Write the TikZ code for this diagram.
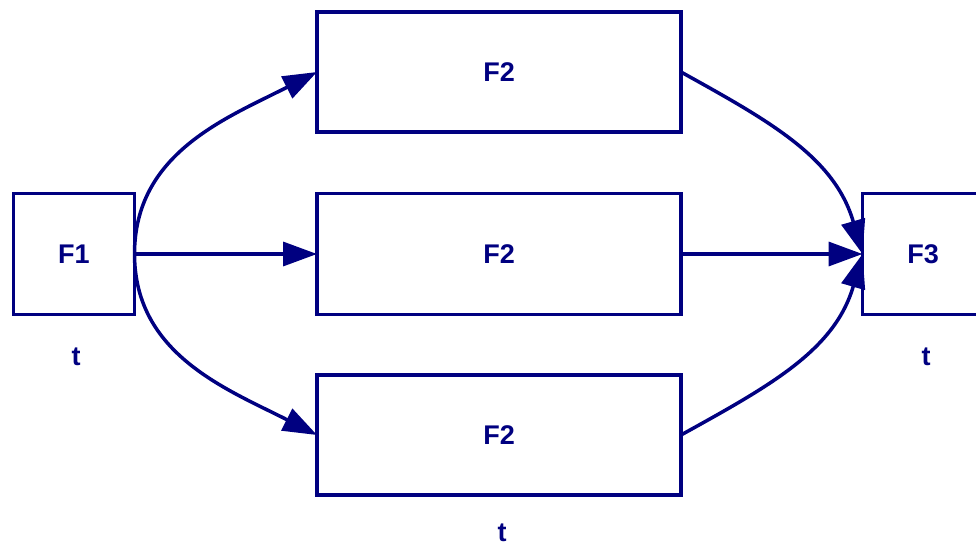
\documentclass[tikz,border=0pt]{standalone}
\usepackage{fontspec}
\setmainfont{Liberation Sans}
\usetikzlibrary{arrows.meta}
\definecolor{navy}{RGB}{0,0,128}
\tikzset{
  blk/.style={draw=navy, line width=3.5pt, inner sep=0pt, outer sep=0pt, anchor=north west,
    font=\fontsize{27}{30}\selectfont\bfseries, text=navy},
  lbl/.style={inner sep=0pt, font=\fontsize{27}{30}\selectfont\bfseries, text=navy},
  flow/.style={draw=navy, line width=3.5pt, -{Triangle[length=34pt,width=24pt]}}
}
\begin{document}
\begin{tikzpicture}[x=1pt,y=-1pt]
  \useasboundingbox (0,0) rectangle (976,549);
  % source and sink blocks
  \node[blk, minimum width=121pt, minimum height=121pt] (f1) at (13.5,193.5) {F1};
  \node[blk, minimum width=121pt, minimum height=121pt] (f3) at (862.5,193.5) {F3};
  % three parallel blocks
  \node[blk, minimum width=364pt, minimum height=120pt] (a) at (317,12) {F2};
  \node[blk, minimum width=364pt, minimum height=121pt] (b) at (317,193.5) {F2};
  \node[blk, minimum width=364pt, minimum height=120pt] (c) at (317,375) {F2};
  % labels
  \node[lbl] (t1) at (76,357) {t};
  \node[lbl] (t3) at (926,357) {t};
  \node[lbl] (t2) at (502,533) {t};
  % fan-out
  \draw[flow] (f1.east) to[out=90,in=207] (a.west);
  \draw[flow] (f1.east) -- (b.west);
  \draw[flow] (f1.east) to[out=-90,in=153] (c.west);
  % fan-in
  \draw[flow] (a.east) to[out=-29,in=106] (f3.west);
  \draw[flow] (b.east) -- (f3.west);
  \draw[flow] (c.east) to[out=29,in=-106] (f3.west);
\end{tikzpicture}
\end{document}
